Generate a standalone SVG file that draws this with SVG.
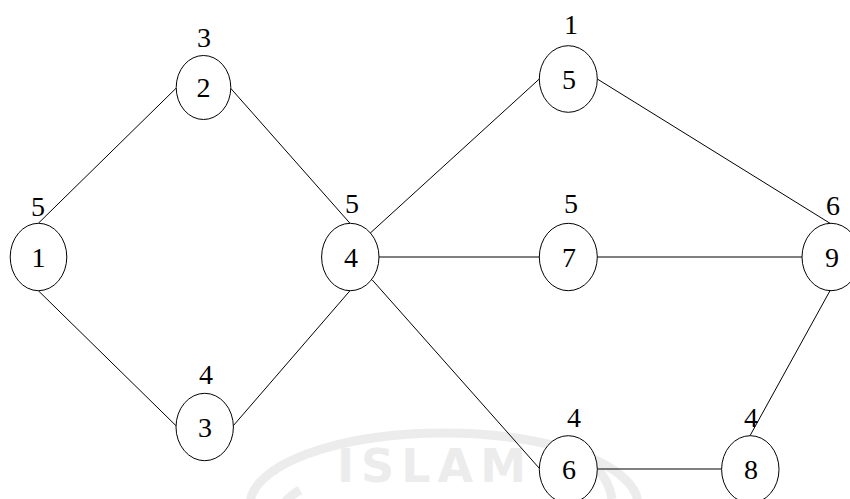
<svg xmlns="http://www.w3.org/2000/svg" width="850" height="499" viewBox="0 0 850 499">
<style>
.node ellipse{fill:#ffffff;stroke:#000000;stroke-width:1}
.num{font-family:"Liberation Serif","Times New Roman",serif;font-size:28px;fill:#000000;text-anchor:middle}
.lbl{font-family:"Liberation Serif","Times New Roman",serif;font-size:28px;fill:#000000;text-anchor:middle}
#edges line{stroke:#000000;stroke-width:1}
.wm{fill:none;stroke:#ececec;stroke-width:9}
.wmt{font-family:"DejaVu Sans",sans-serif;font-weight:bold;font-size:46px;fill:#ececec;letter-spacing:7px}
</style>
<rect width="850" height="499" fill="#ffffff"/>
<g id="watermark">
<path class="wm" d="M 250 505 A 194 72 0 0 1 638 505"/>
<path class="wm" d="M 283 505 A 150 50 0 0 1 300 490"/>
<path class="wm" d="M 590 462 A 60 60 0 0 1 612 499"/>
<text class="wmt" x="337" y="482">ISLAM</text>
</g>
<g id="edges">
<line x1="38.3" y1="223.3" x2="176" y2="88.3"/>
<line x1="230.7" y1="88.3" x2="350" y2="223.3"/>
<line x1="38.3" y1="290.7" x2="176" y2="425.7"/>
<line x1="233.3" y1="425.7" x2="350" y2="290.7"/>
<line x1="370" y1="233.3" x2="539.3" y2="79"/>
<line x1="379" y1="257" x2="539.3" y2="257"/>
<line x1="372.3" y1="280" x2="539.3" y2="468.3"/>
<line x1="597.3" y1="79" x2="830" y2="223.3"/>
<line x1="597.3" y1="257" x2="802.3" y2="257"/>
<line x1="597.3" y1="469" x2="721.7" y2="469"/>
<line x1="830" y1="290.7" x2="750" y2="435.7"/>
</g>
<g id="n1" class="node"><ellipse cx="38.5" cy="257" rx="28.3" ry="33.7"/><text class="num" x="38.5" y="266.5">1</text><text class="lbl" x="38" y="216">5</text></g>
<g id="n2" class="node"><ellipse cx="203.5" cy="87.5" rx="27.3" ry="32"/><text class="num" x="203.5" y="97">2</text><text class="lbl" x="204" y="47">3</text></g>
<g id="n3" class="node"><ellipse cx="204.7" cy="427" rx="28.7" ry="33.7"/><text class="num" x="205" y="436.5">3</text><text class="lbl" x="206" y="384">4</text></g>
<g id="n4" class="node"><ellipse cx="350.3" cy="257" rx="28.7" ry="33.7"/><text class="num" x="351" y="266.5">4</text><text class="lbl" x="352" y="213">5</text></g>
<g id="n5" class="node"><ellipse cx="568.3" cy="79" rx="29" ry="33.3"/><text class="num" x="569" y="88.5">5</text><text class="lbl" x="571" y="34">1</text></g>
<g id="n7" class="node"><ellipse cx="568.3" cy="257" rx="29" ry="33.7"/><text class="num" x="569" y="266.5">7</text><text class="lbl" x="571" y="213">5</text></g>
<g id="n9" class="node"><ellipse cx="831" cy="257" rx="29" ry="33.7"/><text class="num" x="832" y="266.5">9</text><text class="lbl" x="833" y="215">6</text></g>
<g id="n6" class="node"><ellipse cx="568.3" cy="469.4" rx="29" ry="33.7"/><text class="num" x="569" y="479">6</text><text class="lbl" x="574" y="427">4</text></g>
<g id="n8" class="node"><ellipse cx="750.3" cy="469.4" rx="28.7" ry="33.7"/><text class="num" x="751" y="479">8</text><text class="lbl" x="751" y="427">4</text></g>
</svg>
